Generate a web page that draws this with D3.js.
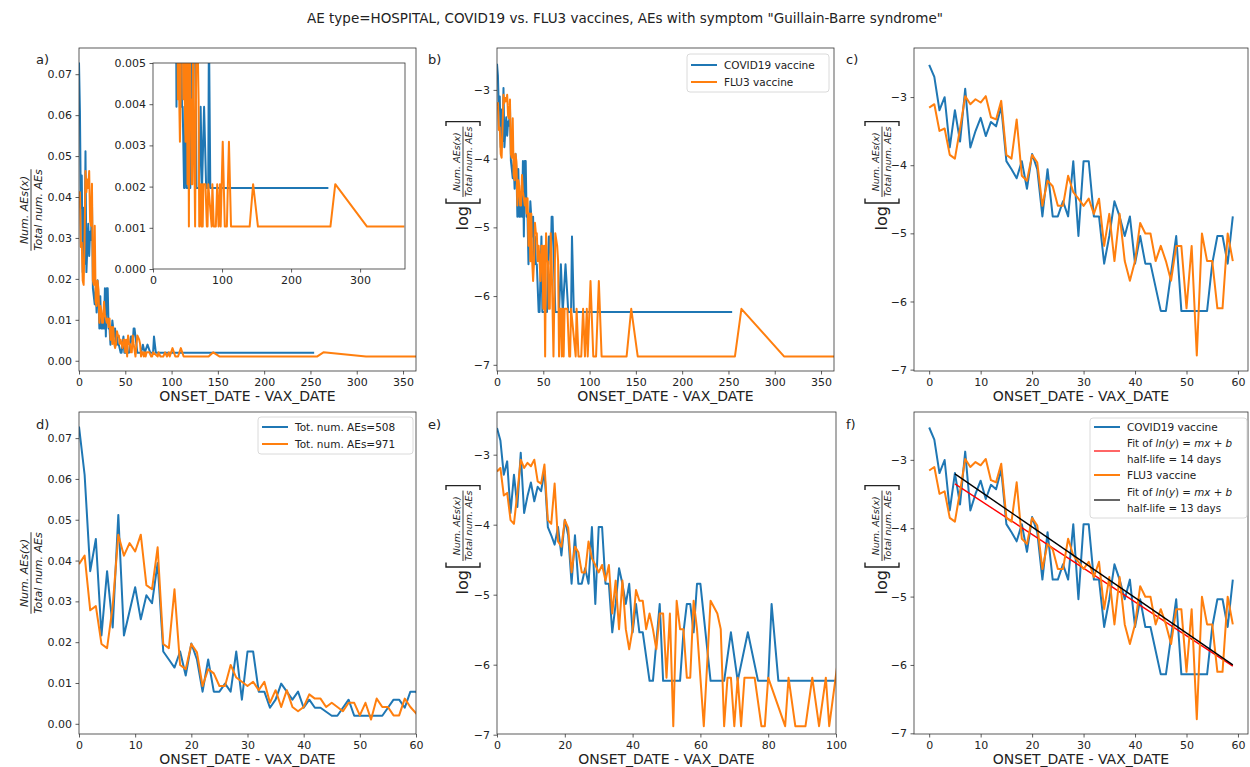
<!DOCTYPE html>
<html>
<head>
<meta charset="utf-8">
<script src="https://cdn.jsdelivr.net/npm/d3@7"></script>
<style>
body { margin: 0; background: #fff; }
text { font-family: "DejaVu Sans", sans-serif; fill: #222; }
</style>
</head>
<body>
<svg id="fig" width="1250" height="767"></svg>
<script>
// data: day after vaccination -> number of AEs (days with 0 AEs are left out)
var covidDays = [0,1,2,3,4,5,6,7,8,9,10,11,12,13,14,15,16,17,18,19,20,21,22,23,24,25,26,27,28,29,
    30,31,32,33,34,35,36,37,38,39,40,41,42,43,45,46,48,49,50,51,52,53,54,55,56,57,58,59,
    60,63,67,69,71,74,77,80,81,83,254];
var covidCounts = [37,31,19,23,11,19,12,26,11,14,17,13,16,15,20,9,8,7,9,6,10,8,4,8,4,4,5,4,9,3,
    9,9,4,4,2,3,5,4,3,4,2,3,2,2,1,1,3,1,1,1,1,1,1,2,3,3,2,4,
    4,1,1,2,1,2,1,1,3,1,1];
var fluDays = [0,1,2,3,4,5,6,7,8,9,10,11,12,13,14,15,16,17,18,19,20,21,22,23,24,25,26,27,28,29,
    30,31,32,33,34,35,36,37,38,39,40,41,42,43,44,45,46,47,48,49,50,51,52,53,54,55,56,57,58,59,
    61,63,65,66,67,68,69,70,71,72,73,74,75,76,78,79,80,85,86,88,91,93,95,97,98,
    101,104,107,110,113,117,140,145,152,257,264,310,364];
var fluCounts = [38,40,27,28,19,18,28,45,40,43,41,45,33,32,42,19,18,32,14,13,19,17,9,13,12,9,9,14,11,10,
    9,10,8,10,5,8,4,8,4,3,4,7,6,6,4,5,4,3,5,5,2,5,1,6,4,4,2,2,6,4,
    1,6,5,4,1,2,2,1,2,1,2,2,2,2,1,1,2,1,2,1,1,2,1,2,1,
    3,1,1,3,1,1,1,2,1,1,2,1,1];
var covidTotal = 508, fluTotal = 971;
var seriesNames = ["COVID19 vaccine", "FLU3 vaccine"];
var totalLabels = ["Tot. num. AEs=508", "Tot. num. AEs=971"];
var halfLifeDays = [14, 13];
var fitRange = [5, 59];
var earlyMax = 59;

var titleText = 'AE type=HOSPITAL, COVID19 vs. FLU3 vaccines, AEs with symptom "Guillain-Barre syndrome"';
var colors = ["#1f77b4", "#ff7f0e"];
var fitColors = ["#ff0000", "#000000"];

var svg = d3.select("#fig");

// turn counts into [day, value] pairs
function to_points(days, counts, denom, use_log, max_day) {
    var pts = [];
    for (var i = 0; i < days.length; i++) {
        if (max_day != null && days[i] > max_day) continue;
        var v = counts[i] / denom;
        pts.push([days[i], use_log ? Math.log(v) : v]);
    }
    return pts;
}

function sum_upto(days, counts, max_day) {
    var s = 0;
    for (var i = 0; i < days.length; i++)
        if (days[i] <= max_day) s += counts[i];
    return s;
}

// least squares fit of y = m x + b
function fit_line(pts, x0, x1) {
    var sel = pts.filter(function (p) { return p[0] >= x0 && p[0] <= x1; });
    var mx = d3.mean(sel, function (p) { return p[0]; });
    var my = d3.mean(sel, function (p) { return p[1]; });
    var sxy = d3.sum(sel, function (p) { return (p[0] - mx) * (p[1] - my); });
    var sxx = d3.sum(sel, function (p) { return (p[0] - mx) * (p[0] - mx); });
    var m = sxy / sxx;
    return { m: m, b: my - m * mx };
}

var clip_count = 0;
function make_axes(p) {
    var g = svg.append("g").attr("transform", "translate(" + p.left + "," + p.top + ")");
    var x = d3.scaleLinear().domain(p.xDomain).range([0, p.width]);
    var y = d3.scaleLinear().domain(p.yDomain).range([p.height, 0]);
    if (p.background)
        g.append("rect").attr("width", p.width).attr("height", p.height).attr("fill", "#fff");
    var id = "clip" + (clip_count++);
    g.append("clipPath").attr("id", id).append("rect")
        .attr("width", p.width).attr("height", p.height);
    var plot = g.append("g").attr("clip-path", "url(#" + id + ")");

    var xa = g.append("g").attr("transform", "translate(0," + p.height + ")")
        .call(d3.axisBottom(x).tickValues(p.xTicks).tickFormat(p.xFormat || d3.format("d"))
            .tickSizeInner(3.5).tickSizeOuter(0).tickPadding(3.5));
    var ya = g.append("g")
        .call(d3.axisLeft(y).tickValues(p.yTicks).tickFormat(p.yFormat || d3.format("d"))
            .tickSizeInner(3.5).tickSizeOuter(0).tickPadding(3.5));
    [xa, ya].forEach(function (a) {
        a.select(".domain").remove();
        a.selectAll("text").style("font-size", "11px").attr("fill", "#222");
        a.selectAll("line").attr("stroke", "#333").attr("stroke-width", 0.8);
    });
    var frame = g.append("rect").attr("width", p.width).attr("height", p.height)
        .attr("fill", "none").attr("stroke", "#333").attr("stroke-width", 0.8);
    return { g: g, plot: plot, x: x, y: y, frame: frame };
}

function add_line(ax, pts, color, width) {
    ax.plot.append("path").datum(pts)
        .attr("fill", "none")
        .attr("stroke", color)
        .attr("stroke-width", width || 2)
        .attr("stroke-linejoin", "round")
        .attr("d", d3.line().x(function (d) { return ax.x(d[0]); }).y(function (d) { return ax.y(d[1]); }));
}

function x_label(ax, p) {
    ax.g.append("text").attr("x", p.width / 2).attr("y", p.height + 30)
        .attr("text-anchor", "middle").style("font-size", "14px")
        .text("ONSET_DATE - VAX_DATE");
}

// draws the num/total fraction in a rotated frame, centred on x=cx
function draw_fraction(g, cx, fs) {
    var num = g.append("text").attr("x", cx).attr("y", -3)
        .attr("text-anchor", "middle").style("font-size", fs + "px").style("font-style", "italic")
        .text("Num. AEs(x)");
    var den = g.append("text").attr("x", cx).attr("y", fs * 0.82 + 1.5)
        .attr("text-anchor", "middle").style("font-size", fs + "px").style("font-style", "italic")
        .text("Total num. AEs");
    var w = Math.max(num.node().getComputedTextLength(), den.node().getComputedTextLength());
    g.append("line").attr("x1", cx - w / 2).attr("x2", cx + w / 2)
        .attr("y1", 0).attr("y2", 0).attr("stroke", "#222").attr("stroke-width", 0.9);
    return w;
}

function frac_label(cx, cy, fs) {
    var g = svg.append("g").attr("transform", "translate(" + cx + "," + cy + ") rotate(-90)");
    draw_fraction(g, 0, fs);
}

function log_label(cx, cy) {
    var outer = svg.append("g").attr("transform", "translate(" + cx + "," + cy + ") rotate(-90)");
    var g = outer.append("g");
    var lg = g.append("text").attr("x", 0).attr("y", 5).style("font-size", "16px").text("log");
    var w0 = lg.node().getComputedTextLength();
    var fs = 9.5, h = 17;
    var bx = w0 + 3;
    // measure fraction width first
    var tmp = g.append("text").style("font-size", fs + "px").style("font-style", "italic").text("Total num. AEs");
    var fw = tmp.node().getComputedTextLength();
    tmp.remove();
    draw_fraction(g, bx + 6 + fw / 2, fs);
    var bx2 = bx + 6 + fw + 5;
    var br = d3.path();
    br.moveTo(bx + 4.5, -h); br.lineTo(bx, -h); br.lineTo(bx, h); br.lineTo(bx + 4.5, h);
    br.moveTo(bx2 - 4.5, -h); br.lineTo(bx2, -h); br.lineTo(bx2, h); br.lineTo(bx2 - 4.5, h);
    g.append("path").attr("d", br.toString()).attr("fill", "none").attr("stroke", "#222").attr("stroke-width", 1.4);
    g.attr("transform", "translate(" + (-bx2 / 2) + ",0)");
}

function panel_tag(x, y, t) {
    svg.append("text").attr("x", x).attr("y", y).style("font-size", "13px").text(t);
}

// legend: rows = [{color, width, lines:[...]}]
function legend(x, y, w, h, rows, fs) {
    var g = svg.append("g").attr("transform", "translate(" + x + "," + y + ")");
    g.append("rect").attr("width", w).attr("height", h).attr("rx", 3)
        .attr("fill", "#fff").attr("fill-opacity", 0.85).attr("stroke", "#d0d0d0").attr("stroke-width", 0.8);
    rows.forEach(function (r) {
        g.append("line").attr("x1", 4).attr("x2", 30).attr("y1", r.y).attr("y2", r.y)
            .attr("stroke", r.color).attr("stroke-width", r.width);
        r.lines.forEach(function (ln, k) {
            var t = g.append("text").attr("x", 37)
                .attr("y", r.y + 4 + (k - (r.lines.length - 1) / 2) * r.gap)
                .style("font-size", (r.fs || fs) + "px");
            ln.forEach(function (part) {
                t.append("tspan").style("font-style", part[1] ? "italic" : "normal").text(part[0]);
            });
        });
    });
}

// ---------- derived series ----------
var covLin = to_points(covidDays, covidCounts, covidTotal, false);
var fluLin = to_points(fluDays, fluCounts, fluTotal, false);
var covLog = to_points(covidDays, covidCounts, covidTotal, true);
var fluLog = to_points(fluDays, fluCounts, fluTotal, true);
var covEarly = to_points(covidDays, covidCounts, sum_upto(covidDays, covidCounts, earlyMax), true, earlyMax);
var fluEarly = to_points(fluDays, fluCounts, sum_upto(fluDays, fluCounts, earlyMax), true, earlyMax);

var linTicks = [0, 0.01, 0.02, 0.03, 0.04, 0.05, 0.06, 0.07];
var logTicks = [-7, -6, -5, -4, -3];
var wideTicks = [0, 50, 100, 150, 200, 250, 300, 350];
var earlyTicks = [0, 10, 20, 30, 40, 50, 60];

// title
svg.append("text").attr("x", 625).attr("y", 23).attr("text-anchor", "middle")
    .style("font-size", "13.5px").text(titleText);

// a)
var pa = { left: 79, top: 48, width: 337, height: 323, xDomain: [0, 364], yDomain: [-0.0025, 0.0764],
    xTicks: wideTicks, yTicks: linTicks, yFormat: d3.format(".2f") };
var axA = make_axes(pa);
add_line(axA, covLin, colors[0]);
add_line(axA, fluLin, colors[1]);
x_label(axA, pa);
frac_label(31, 210, 11);
panel_tag(36, 64, "a)");

// inset of a)
var pin = { left: 153, top: 63, width: 252, height: 206, xDomain: [0, 365], yDomain: [0, 0.005],
    xTicks: [0, 100, 200, 300], yTicks: [0, 0.001, 0.002, 0.003, 0.004, 0.005], yFormat: d3.format(".3f"),
    background: true };
var axIn = make_axes(pin);
add_line(axIn, covLin, colors[0]);
add_line(axIn, fluLin, colors[1]);

// b)
var pb = { left: 497, top: 48, width: 337, height: 323, xDomain: [0, 364], yDomain: [-7.09, -2.39],
    xTicks: wideTicks, yTicks: logTicks };
var axB = make_axes(pb);
add_line(axB, covLog, colors[0]);
add_line(axB, fluLog, colors[1]);
x_label(axB, pb);
log_label(463, 176);
panel_tag(428, 64, "b)");
legend(687, 54, 142, 38, [
    { y: 11, color: colors[0], width: 2, gap: 0, lines: [[[seriesNames[0], false]]] },
    { y: 28, color: colors[1], width: 2, gap: 0, lines: [[[seriesNames[1], false]]] }
], 10.5);

// c)
var pc = { left: 914, top: 48, width: 334, height: 323, xDomain: [-2.95, 61.95], yDomain: [-7.02, -2.28],
    xTicks: earlyTicks, yTicks: logTicks };
var axC = make_axes(pc);
add_line(axC, covEarly, colors[0]);
add_line(axC, fluEarly, colors[1]);
x_label(axC, pc);
log_label(882, 176);
panel_tag(846, 64, "c)");

// d)
var pd = { left: 79, top: 412, width: 337, height: 322, xDomain: [0, 60], yDomain: [-0.0025, 0.0764],
    xTicks: earlyTicks, yTicks: linTicks, yFormat: d3.format(".2f") };
var axD = make_axes(pd);
add_line(axD, covLin, colors[0]);
add_line(axD, fluLin, colors[1]);
x_label(axD, pd);
frac_label(31, 573, 11);
panel_tag(36, 429, "d)");
legend(258, 417, 155, 37, [
    { y: 10, color: colors[0], width: 2, gap: 0, lines: [[[totalLabels[0], false]]] },
    { y: 27, color: colors[1], width: 2, gap: 0, lines: [[[totalLabels[1], false]]] }
], 10.5);

// e)
var pe = { left: 497, top: 412, width: 339, height: 322, xDomain: [0, 100], yDomain: [-6.99, -2.39],
    xTicks: [0, 20, 40, 60, 80, 100], yTicks: logTicks };
var axE = make_axes(pe);
add_line(axE, covLog, colors[0]);
add_line(axE, fluLog, colors[1]);
x_label(axE, pe);
log_label(463, 540);
panel_tag(428, 429, "e)");

// f)
var pf = { left: 914, top: 412, width: 334, height: 322, xDomain: [-2.95, 61.95], yDomain: [-7.01, -2.30],
    xTicks: earlyTicks, yTicks: logTicks };
var axF = make_axes(pf);
add_line(axF, covEarly, colors[0]);
var fits = [fit_line(covEarly, fitRange[0], fitRange[1]), fit_line(fluEarly, fitRange[0], fitRange[1])];
add_line(axF, fitRange.map(function (d) { return [d, fits[0].m * d + fits[0].b]; }), fitColors[0], 1.4);
add_line(axF, fluEarly, colors[1]);
add_line(axF, fitRange.map(function (d) { return [d, fits[1].m * d + fits[1].b]; }), fitColors[1], 1.4);
x_label(axF, pf);
log_label(882, 540);
panel_tag(846, 429, "f)");
function fit_rows(k) {
    return [[["Fit of ", false], ["ln", true], ["(", false], ["y", true], [") = ", false], ["mx", true], [" + ", false], ["b", true]],
            [["half-life = " + halfLifeDays[k] + " days", false]]];
}
legend(1090, 418, 157, 100, [
    { y: 9, color: colors[0], width: 2, gap: 0, lines: [[[seriesNames[0], false]]] },
    { y: 33, color: fitColors[0], width: 1.2, gap: 16, fs: 10.3, lines: fit_rows(0) },
    { y: 57, color: colors[1], width: 2, gap: 0, lines: [[[seriesNames[1], false]]] },
    { y: 82, color: fitColors[1], width: 1.2, gap: 16, fs: 10.3, lines: fit_rows(1) }
], 10.5);
</script>
</body>
</html>
